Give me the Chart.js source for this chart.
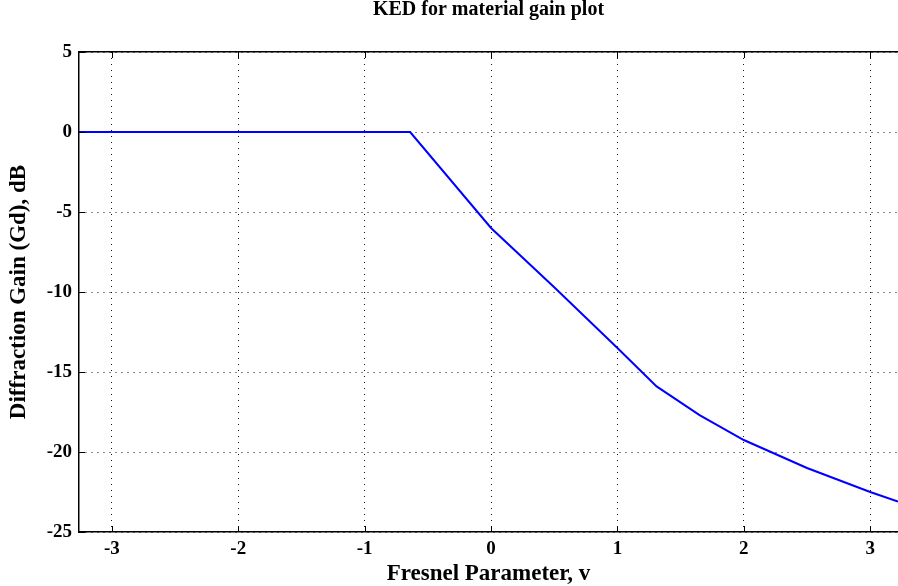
<!DOCTYPE html>
<html>
<head>
<meta charset="utf-8">
<script src="https://cdn.jsdelivr.net/npm/chart.js@4.4.1/dist/chart.umd.min.js"></script>
<style>
  html, body { margin: 0; padding: 0; background: #fff; }
  #wrap { width: 898px; height: 586px; }
</style>
</head>
<body>
<div id="wrap"><canvas id="myChart"></canvas></div>
<script>
// values
const vParam = [-3.26, -0.64, 0, 0.5, 1, 1.31, 1.65, 2, 2.5, 3, 3.22];
const gainDb = [0, 0, -6.0, -9.7, -13.5, -15.9, -17.7, -19.25, -21.0, -22.5, -23.1];
const xTicks = [-3, -2, -1, 0, 1, 2, 3];
const yTicks = [5, 0, -5, -10, -15, -20, -25];

const points = vParam.map((v, i) => ({ x: v, y: gainDb[i] }));

// MATLAB style inward tick marks
const innerTicks = {
  id: 'innerTicks',
  afterDraw(chart) {
    const { ctx, chartArea, scales } = chart;
    ctx.save();
    ctx.strokeStyle = '#000';
    ctx.lineWidth = 1;
    ctx.beginPath();
    xTicks.forEach(t => {
      const px = Math.round(scales.x.getPixelForValue(t)) + 0.5;
      ctx.moveTo(px, chartArea.bottom);
      ctx.lineTo(px, chartArea.bottom - 6);
      ctx.moveTo(px, chartArea.top);
      ctx.lineTo(px, chartArea.top + 6);
    });
    yTicks.forEach(t => {
      const py = Math.round(scales.y.getPixelForValue(t)) + 0.5;
      ctx.moveTo(chartArea.left, py);
      ctx.lineTo(chartArea.left + 6, py);
    });
    ctx.stroke();
    ctx.restore();
  }
};

const tickFont = { family: 'Liberation Serif', size: 19, weight: 'bold' };

const ctx = document.getElementById('myChart').getContext('2d');
const myChart = new Chart(ctx, {
  type: 'scatter',
  data: {
    datasets: [
      {
        label: 'Gd',
        data: points,
        showLine: true,
        borderColor: '#0000ff',
        borderWidth: 2,
        pointRadius: 0,
        tension: 0,
        fill: false
      }
    ]
  },
  options: {
    responsive: true,
    maintainAspectRatio: false,
    animation: false,
    layout: { padding: 0 },
    scales: {
      x: {
        type: 'linear',
        position: 'bottom',
        min: -3.26,
        max: 3.22,
        afterFit(scale) { scale.height = 54; },
        afterBuildTicks(scale) { scale.ticks = xTicks.map(v => ({ value: v })); },
        ticks: {
          includeBounds: false,
          color: '#000',
          padding: 6,
          font: tickFont
        },
        grid: { color: '#111', lineWidth: 1, drawTicks: false },
        border: { display: true, color: '#000', width: 1.5, dash: [1, 5] },
        title: {
          display: true,
          text: 'Fresnel Parameter, v',
          color: '#000',
          padding: { top: 0, bottom: 0 },
          font: { family: 'Liberation Serif', size: 23, weight: 'bold', lineHeight: 1 }
        }
      },
      x2: {
        type: 'linear',
        position: 'top',
        min: -3.26,
        max: 3.22,
        afterFit(scale) { scale.height = 52; },
        ticks: { display: false },
        grid: { display: false, drawTicks: false },
        border: { display: true, color: '#000', width: 1.5 },
        title: {
          display: true,
          text: 'KED for material gain plot',
          color: '#000',
          padding: { top: 0, bottom: 0 },
          font: { family: 'Liberation Serif', size: 20, weight: 'bold', lineHeight: 1 }
        }
      },
      y: {
        type: 'linear',
        min: -25,
        max: 5,
        afterFit(scale) { scale.width = 79; },
        afterBuildTicks(scale) { scale.ticks = yTicks.map(v => ({ value: v })); },
        ticks: {
          color: '#000',
          padding: 7,
          font: tickFont
        },
        grid: { color: '#111', lineWidth: 1, drawTicks: false },
        border: { display: true, color: '#000', width: 1.5, dash: [1, 5] },
        title: {
          display: true,
          text: 'Diffraction Gain (Gd), dB',
          color: '#000',
          padding: { top: 8, bottom: 0 },
          font: { family: 'Liberation Serif', size: 23, weight: 'bold', lineHeight: 1 }
        }
      }
    },
    plugins: {
      legend: { display: false },
      tooltip: { enabled: false }
    }
  },
  plugins: [innerTicks]
});
</script>
</body>
</html>
